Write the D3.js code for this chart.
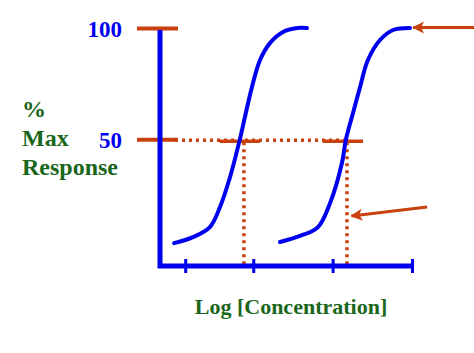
<!DOCTYPE html>
<html lang="en">
  <head>
    <meta charset="UTF-8" />
    <title>Dose Response Shift</title>
    <script src="https://d3js.org/d3.v7.min.js"></script>
    <style>
      body { margin: 0; background: #fff; }
      svg { display: block; }
      text { font-family: 'Liberation Serif', 'Times New Roman', serif; font-weight: bold; }
    </style>
  </head>
  <body>
    <div id="chart"></div>
    <script>
      // values (x = log concentration units, y = % max response)
      const xTicks = [1, 3.7, 6.85, 10];
      const yTicks = [100, 50];
      const curveA = [
        [0.56, 3.3], [1.31, 6.0], [1.98, 10.5], [2.38, 19.5], [2.78, 33],
        [3.17, 50], [3.37, 60], [3.65, 73.5], [3.97, 85.6], [4.37, 93.3],
        [4.88, 98.2], [5.44, 100], [5.83, 100]
      ];
      const curveB = [
        [4.76, 3.8], [5.56, 6.5], [6.27, 10.5], [6.75, 21.3], [7.22, 39.3],
        [7.38, 50], [7.66, 61.8], [7.94, 73.5], [8.25, 85.6], [8.73, 94.6],
        [9.25, 99.1], [9.92, 100]
      ];
      const ec50 = [3.33, 7.42];

      const width = 474, height = 353;
      const red = '#c9400f', blue = '#0000f0', green = '#1a661a';

      const svg = d3.select('#chart').append('svg')
        .attr('width', width).attr('height', height);

      const x = d3.scaleLinear().domain([0, 10]).range([160, 412]);
      const y = d3.scaleLinear().domain([-7, 100]).range([266, 28]);

      // y axis ticks (red) with blue labels
      const yAxis = svg.append('g')
        .attr('transform', 'translate(178,0)')
        .call(d3.axisLeft(y).tickValues(yTicks).tickSize(41).tickPadding(15));
      yAxis.select('.domain').remove();
      yAxis.selectAll('line').attr('stroke', red).attr('stroke-width', 4);
      yAxis.selectAll('text')
        .attr('fill', blue).style('font-size', '23px').attr('dy', '0.35em');

      // 50% reference: dotted line, then short solid marks at each EC50
      const lineY = y(50) + 1;
      svg.append('line')
        .attr('x1', 175).attr('x2', x(ec50[1]))
        .attr('y1', lineY).attr('y2', lineY)
        .attr('stroke', red).attr('stroke-width', 3.5).attr('stroke-dasharray', '3,4');
      ec50.forEach((v) => {
        svg.append('line')
          .attr('x1', x(v) - 24).attr('x2', x(v) + 16)
          .attr('y1', lineY + 1).attr('y2', lineY + 1)
          .attr('stroke', red).attr('stroke-width', 3.5);
        svg.append('line')
          .attr('x1', x(v)).attr('x2', x(v))
          .attr('y1', lineY + 2).attr('y2', y(-7))
          .attr('stroke', red).attr('stroke-width', 3.5).attr('stroke-dasharray', '3,4');
      });

      // blue axes
      svg.append('path')
        .attr('d', d3.line()([[x(0), y(100) + 2], [x(0), y(-7)], [x(10), y(-7)]]))
        .attr('fill', 'none').attr('stroke', blue).attr('stroke-width', 5);

      const xAxis = svg.append('g')
        .attr('transform', `translate(0,${y(-7) - 7})`)
        .call(d3.axisBottom(x).tickValues(xTicks).tickSize(14).tickFormat(''));
      xAxis.select('.domain').remove();
      xAxis.selectAll('line').attr('stroke', blue).attr('stroke-width', 3);

      // curves
      const line = d3.line()
        .x((d) => x(d[0]))
        .y((d) => y(d[1]))
        .curve(d3.curveCatmullRom.alpha(0.5));
      [curveA, curveB].forEach((c) => {
        svg.append('path')
          .attr('d', line(c))
          .attr('fill', 'none').attr('stroke', blue).attr('stroke-width', 4)
          .attr('stroke-linecap', 'round');
      });

      // arrows
      svg.append('defs').append('marker')
        .attr('id', 'head').attr('viewBox', '0 0 10 10')
        .attr('refX', 9).attr('refY', 5)
        .attr('markerWidth', 4.5).attr('markerHeight', 4)
        .attr('markerUnits', 'strokeWidth')
        .attr('orient', 'auto')
        .append('path').attr('d', 'M0,0L10,5L0,10L2.5,5Z').attr('fill', red);

      const arrows = [
        [[12.6, 100.2], [10.05, 100.2]],
        [[10.6, 19.5], [7.6, 15.5]]
      ];
      arrows.forEach((a) => {
        svg.append('line')
          .attr('x1', x(a[0][0])).attr('y1', y(a[0][1]))
          .attr('x2', x(a[1][0])).attr('y2', y(a[1][1]))
          .attr('stroke', red).attr('stroke-width', 3)
          .attr('marker-end', 'url(#head)');
      });

      // titles
      const yTitle = ['%', 'Max', 'Response'];
      const yTitleBase = [117, 146, 175];
      svg.selectAll('.ytitle').data(yTitle).enter().append('text')
        .attr('class', 'ytitle')
        .attr('x', 22).attr('y', (d, i) => yTitleBase[i])
        .attr('fill', green).style('font-size', '24px')
        .text((d) => d);

      svg.append('text')
        .attr('x', 291).attr('y', 314)
        .attr('text-anchor', 'middle')
        .attr('fill', green).style('font-size', '22px')
        .text('Log [Concentration]');
    </script>
  </body>
</html>
